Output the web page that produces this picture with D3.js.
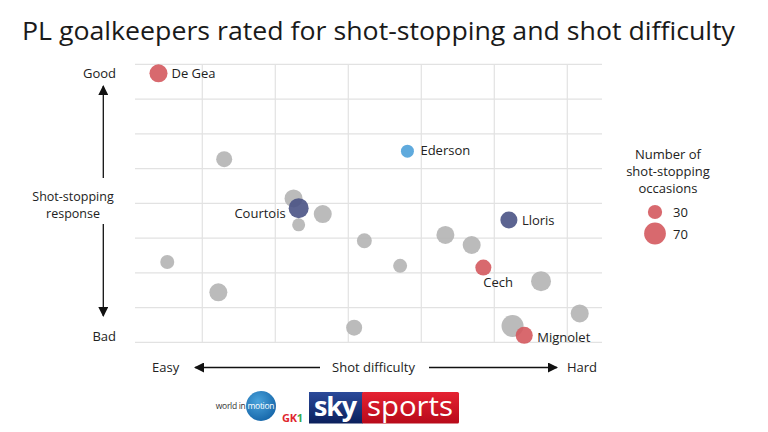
<!DOCTYPE html>
<html><head><meta charset="utf-8">
<script src="https://cdn.jsdelivr.net/npm/d3@7"></script>
<style>
body{margin:0;background:#fff;}
svg{display:block;}
text{font-family:"Open Sans","Noto Sans",sans-serif;fill:#222;}
</style></head>
<body>
<svg id="c" width="768" height="432"></svg>
<script>
// ---- data ----
const keepers    = ["De Gea","","Ederson","","Courtois","","","","","","","","","","Cech","Lloris","","","","Mignolet"];
const difficulty = [0.40,1.30,3.81,2.25,2.32,2.65,2.32,0.52,1.22,3.08,3.22,3.71,4.33,4.69,4.85,5.20,5.64,6.17,5.25,5.41];
const response   = [7.74,5.27,5.50,4.14,3.86,3.69,3.38,2.31,1.44,0.42,2.92,2.20,3.09,2.80,2.15,3.52,1.76,0.83,0.47,0.20];
const occasions  = [48,38,25,48,59,48,25,29,48,38,33,29,48,48,38,43,59,48,72,43];
const legendSizes = [30,70];
const xTicks = [1,2,3,4,5,6];
const yTicks = [0,1,2,3,4,5,6,7,8];

// ---- styles ----
const colorOf = {"De Gea":"#d4595e","Cech":"#d4595e","Mignolet":"#d4595e","Ederson":"#4ea1d9","Courtois":"#4a5385","Lloris":"#4a5385"};
const grey = "#b4b4b4";

const svg = d3.select("#c");
const x = d3.scaleLinear().domain([0,6]).range([129.3,567.3]);
const y = d3.scaleLinear().domain([0,8]).range([342.3,64.3]);
const r = d3.scaleSqrt().domain([0,100]).range([0,13]);

// title
svg.append("text").attr("x",378.5).attr("y",40).attr("text-anchor","middle")
  .attr("textLength",713).attr("lengthAdjust","spacingAndGlyphs")
  .style("font-size","26px").style("fill","#1a1a1a")
  .text("PL goalkeepers rated for shot-stopping and shot difficulty");

// grid
const g = svg.append("g");
g.selectAll(".hg").data(yTicks).join("line")
  .attr("x1",135).attr("x2",602).attr("y1",d=>y(d)).attr("y2",d=>y(d))
  .attr("stroke","#e2e2e2").attr("stroke-width",1.2);
g.selectAll(".vg").data(xTicks).join("line")
  .attr("y1",y(8)).attr("y2",y(0)).attr("x1",d=>x(d)).attr("x2",d=>x(d))
  .attr("stroke","#e2e2e2").attr("stroke-width",1.2);

// points (grey first, highlighted on top)
const idx = d3.range(keepers.length).sort((a,b)=>(keepers[a]?1:0)-(keepers[b]?1:0));
svg.append("g").selectAll("circle").data(idx).join("circle")
  .attr("cx",i=>x(difficulty[i])).attr("cy",i=>y(response[i]))
  .attr("r",i=>r(occasions[i]))
  .attr("fill",i=>colorOf[keepers[i]]||grey)
  .attr("fill-opacity",0.9);

// labels
const lab = {"De Gea":{dx:13,dy:5,a:"start"},"Ederson":{dx:13,dy:4,a:"start"},"Courtois":{dx:-13,dy:10,a:"end"},
  "Lloris":{dx:13,dy:5,a:"start"},"Cech":{dx:0,dy:19,a:"start"},"Mignolet":{dx:13,dy:7,a:"start"}};
svg.append("g").selectAll("text").data(d3.range(keepers.length).filter(i=>keepers[i])).join("text")
  .attr("x",i=>x(difficulty[i])+lab[keepers[i]].dx)
  .attr("y",i=>y(response[i])+lab[keepers[i]].dy)
  .attr("text-anchor",i=>lab[keepers[i]].a)
  .style("font-size","13px")
  .text(i=>keepers[i]);

// arrow marker
const defs = svg.append("defs");
defs.append("marker").attr("id","ah").attr("viewBox","0 0 10 10").attr("refX",9).attr("refY",5)
  .attr("markerWidth",10).attr("markerHeight",10).attr("markerUnits","userSpaceOnUse").attr("orient","auto")
  .append("path").attr("d","M0,0L10,5L0,10Z").attr("fill","#111");

// y axis label
svg.append("text").attr("x",116).attr("y",77.5).attr("text-anchor","end").style("font-size","13px").text("Good");
svg.append("text").attr("x",116).attr("y",341).attr("text-anchor","end").style("font-size","13px").text("Bad");
svg.append("line").attr("x1",103.3).attr("x2",103.3).attr("y1",178).attr("y2",86).attr("stroke","#111").attr("stroke-width",1.3).attr("marker-end","url(#ah)");
svg.append("line").attr("x1",103.3).attr("x2",103.3).attr("y1",224).attr("y2",316).attr("stroke","#111").attr("stroke-width",1.3).attr("marker-end","url(#ah)");
svg.append("text").attr("x",73).attr("y",200.5).attr("text-anchor","middle").style("font-size","12.5px").text("Shot-stopping");
svg.append("text").attr("x",73).attr("y",218).attr("text-anchor","middle").style("font-size","12.5px").text("response");

// x axis label
svg.append("text").attr("x",152).attr("y",372).style("font-size","13px").text("Easy");
svg.append("text").attr("x",597).attr("y",372).attr("text-anchor","end").style("font-size","13px").text("Hard");
svg.append("text").attr("x",373.5).attr("y",372).attr("text-anchor","middle").style("font-size","13px").text("Shot difficulty");
svg.append("line").attr("x1",320).attr("x2",195).attr("y1",367.5).attr("y2",367.5).attr("stroke","#111").attr("stroke-width",1.3).attr("marker-end","url(#ah)");
svg.append("line").attr("x1",429).attr("x2",557).attr("y1",367.5).attr("y2",367.5).attr("stroke","#111").attr("stroke-width",1.3).attr("marker-end","url(#ah)");

// legend
["Number of","shot-stopping","occasions"].forEach((t,i)=>{
  svg.append("text").attr("x",668).attr("y",159+i*17).attr("text-anchor","middle").style("font-size","13px").text(t);
});
const ly = d3.scalePoint().domain(legendSizes).range([212,233.5]);
svg.append("g").selectAll("circle").data(legendSizes).join("circle")
  .attr("cx",655).attr("cy",d=>ly(d)).attr("r",d=>r(d)).attr("fill","#d4595e").attr("fill-opacity",0.9);
svg.append("g").selectAll("text").data(legendSizes).join("text")
  .attr("x",673).attr("y",d=>ly(d)+5).style("font-size","13px").text(d=>d);

// logos
const lg = svg.append("g");
lg.append("text").attr("x",245.5).attr("y",409).attr("text-anchor","end").style("font-size","8.5px").style("fill","#333").style("letter-spacing","-0.3px").text("world in");
const cg = defs.append("radialGradient").attr("id","wim").attr("cx","0.4").attr("cy","0.35").attr("r","0.7");
cg.append("stop").attr("offset","0").attr("stop-color","#4aa3dc");
cg.append("stop").attr("offset","1").attr("stop-color","#1565a8");
lg.append("circle").attr("cx",261).attr("cy",406).attr("r",15).attr("fill","url(#wim)");
lg.append("text").attr("x",247.5).attr("y",409).style("font-size","8.5px").style("fill","#fff").style("letter-spacing","-0.3px").text("motion");
const gk = lg.append("text").attr("x",282).attr("y",422).style("font-size","11px").style("font-weight","bold").style("letter-spacing","-0.3px");
gk.append("tspan").style("fill","#e0262f").text("GK");
gk.append("tspan").style("fill","#3aa84a").text("1");
const sg = defs.append("linearGradient").attr("id","skyb").attr("x1",0).attr("y1",0).attr("x2",0).attr("y2",1);
sg.append("stop").attr("offset","0").attr("stop-color","#2b4a9a");
sg.append("stop").attr("offset","1").attr("stop-color","#0b1f5c");
const rg = defs.append("linearGradient").attr("id","skyr").attr("x1",0).attr("y1",0).attr("x2",0).attr("y2",1);
rg.append("stop").attr("offset","0").attr("stop-color","#e52232");
rg.append("stop").attr("offset","1").attr("stop-color","#b80a1a");
lg.append("rect").attr("x",309).attr("y",392).attr("width",54).attr("height",31.5).attr("fill","url(#skyb)");
lg.append("rect").attr("x",362).attr("y",392).attr("width",97).attr("height",31.5).attr("rx",1.5).attr("fill","url(#skyr)");
lg.append("text").attr("x",314).attr("y",416).style("font-size","27px").style("font-weight","bold").style("fill","#fff").style("letter-spacing","-1.2px").text("sky");
lg.append("text").attr("x",367).attr("y",416).attr("textLength",86).attr("lengthAdjust","spacingAndGlyphs").style("font-size","27px").style("fill","#fff").text("sports");
</script>
</body></html>
